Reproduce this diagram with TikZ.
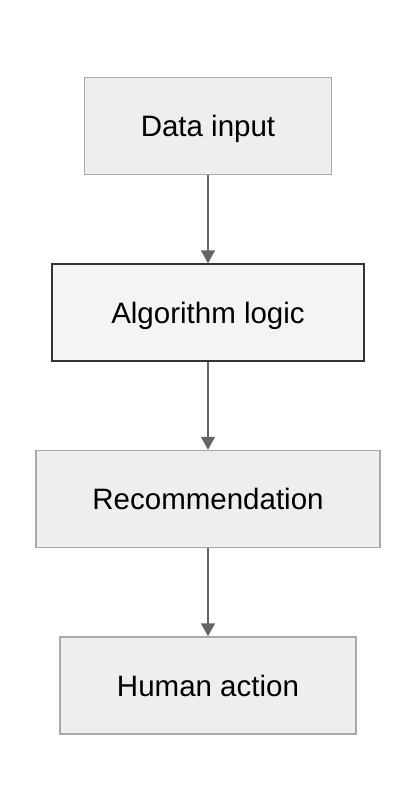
\documentclass[tikz,border=0pt]{standalone}
\usepackage{fontspec}
\setmainfont{Liberation Sans}
\usetikzlibrary{positioning, arrows.meta}
\definecolor{boxfill}{HTML}{EEEEEE}
\definecolor{boxline}{HTML}{AAAAAA}
\definecolor{logicfill}{HTML}{F4F4F4}
\definecolor{logicline}{HTML}{333333}
\definecolor{arrowgray}{HTML}{666666}
\begin{document}
\begin{tikzpicture}[x = 1pt, y = 1pt, node distance = 88pt,
    stepbox/.style = {draw=boxline, fill=boxfill, line width=1.5pt,
        minimum height=97pt, text height=21pt, text depth=0pt,
        font=\fontsize{29.5}{35}\selectfont},
    flow/.style = {draw=arrowgray, line width=1.5pt,
        -{Triangle[width=14pt, length=13pt]}}]
    \useasboundingbox (0,0) rectangle (416,-812);
    % boxes, top to bottom
    \node[stepbox, minimum width=247pt] (input) at (208,-126) {Data input};
    \node[stepbox, minimum width=312pt, draw=logicline, fill=logicfill,
        below = of input] (logic) {Algorithm logic};
    \node[stepbox, minimum width=344pt, below = of logic] (recommend) {Recommendation};
    \node[stepbox, minimum width=296pt, below = of recommend] (action) {Human action};
    % connectors
    \draw[flow] (input) -- (logic);
    \draw[flow] (logic) -- (recommend);
    \draw[flow] (recommend) -- (action);
\end{tikzpicture}
\end{document}
